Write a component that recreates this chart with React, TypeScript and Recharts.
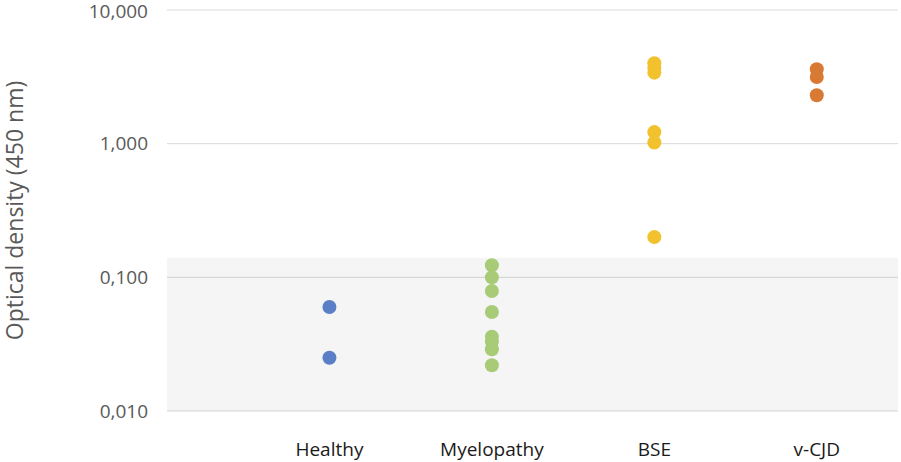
import React from "react";
import {
  ScatterChart,
  Scatter,
  XAxis,
  YAxis,
  CartesianGrid,
  ReferenceArea,
} from "recharts";

const categories = ["Healthy", "Myelopathy", "BSE", "v-CJD"];
const healthy = [0.06, 0.025];
const myelopathy = [0.123, 0.1, 0.079, 0.055, 0.036, 0.033, 0.029, 0.022];
const bse = [4.0, 3.7, 3.4, 1.22, 1.02, 0.2];
const vcjd = [3.6, 3.15, 2.3];
const yTicks = [0.01, 0.1, 1, 10];
const yTickLabels = ["0,010", "0,100", "1,000", "10,000"];
const cutoff = 0.14;

const colors = ["#5B7FC6", "#A7CB76", "#F2C12E", "#D87A33"];
const seriesValues = [healthy, myelopathy, bse, vcjd];

const toPoints = (values: number[], idx: number) =>
  values.map((v) => ({ x: idx + 1, y: v }));

const dot = (color: string) => (props: any) =>
  <circle cx={props.cx} cy={props.cy} r={7} fill={color} />;

export default function App() {
  return (
    <div style={{ position: "absolute", left: 0, top: 0 }}>
      <ScatterChart
        width={901}
        height={462}
        margin={{ top: 10, right: 3, left: 0, bottom: 0 }}
      >
        <ReferenceArea
          x1={0}
          x2={4.5}
          y1={0.01}
          y2={cutoff}
          fill="#000"
          fillOpacity={0.04}
          stroke="none"
        />
        <CartesianGrid vertical={false} stroke="#d9d9d9" />
        <XAxis
          type="number"
          dataKey="x"
          domain={[0, 4.5]}
          ticks={[1, 2, 3, 4]}
          tickFormatter={(v: number) => categories[v - 1]}
          axisLine={false}
          tickLine={false}
          tickSize={0}
          tickMargin={32}
          height={51}
          tick={{ fill: "#1a1a1a", fontSize: 19, fontFamily: "Open Sans" }}
        />
        <YAxis
          type="number"
          dataKey="y"
          scale="log"
          domain={[0.01, 10]}
          ticks={yTicks}
          tickFormatter={(v: number) => yTickLabels[yTicks.indexOf(v)]}
          allowDataOverflow
          axisLine={false}
          tickLine={false}
          tickSize={0}
          tickMargin={19}
          width={167}
          tick={{ fill: "#595959", fontSize: 19, fontFamily: "Open Sans" }}
          label={{
            value: "Optical density (450 nm)",
            angle: -90,
            position: "insideLeft",
            offset: 15,
            style: {
              textAnchor: "middle",
              fill: "#595959",
              fontSize: 23,
              fontFamily: "Open Sans",
            },
          }}
        />
        {seriesValues.map((vals, i) => (
          <Scatter
            key={categories[i]}
            name={categories[i]}
            data={toPoints(vals, i)}
            shape={dot(colors[i])}
            isAnimationActive={false}
          />
        ))}
      </ScatterChart>
    </div>
  );
}
